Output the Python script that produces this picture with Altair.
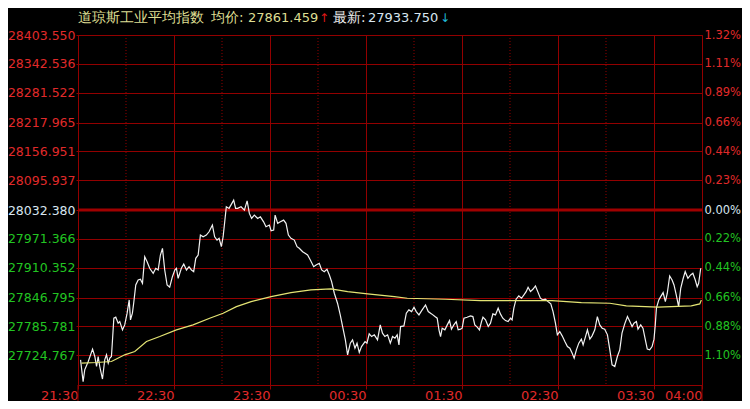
import json
import altair as alt
import pandas as pd

PREV_CLOSE = 28032.380

Y_TICKS = [28403.550, 28342.536, 28281.522, 28217.965, 28156.951, 28095.937,
           28032.380, 27971.366, 27910.352, 27846.795, 27785.781, 27724.767]
LEFT_LABELS = ["28403.550", "28342.536", "28281.522", "28217.965", "28156.951", "28095.937",
               "28032.380", "27971.366", "27910.352", "27846.795", "27785.781", "27724.767"]
RIGHT_LABELS = ["1.32%", "1.11%", "0.89%", "0.66%", "0.44%", "0.23%",
                "0.00%", "0.22%", "0.44%", "0.66%", "0.88%", "1.10%"]
X_TICKS = [0, 60, 120, 180, 240, 300, 360, 390]
X_LABELS = ["21:30", "22:30", "23:30", "00:30", "01:30", "02:30", "03:30", "04:00"]
HALF_HOURS = [30, 90, 150, 210, 270, 330]

price_minute = [
    1.6, 3.2, 4.2, 6.4, 9.1, 10.5, 11.6, 12.6, 13.6, 15.3, 16.7, 17.8, 18.9, 19.9, 20.9,
    21.5, 22.4, 23.6, 25.1, 26.1, 27.8, 29.2, 30.7, 32.0, 32.8, 34.0, 34.8, 36.1, 37.6, 39.0,
    40.3, 41.7, 43.2, 44.8, 47.0, 48.6, 50.1, 51.5, 52.8, 54.2, 55.7, 57.3, 59.0, 60.5, 61.5,
    62.6, 64.6, 66.1, 67.8, 69.4, 70.9, 72.3, 73.6, 75.1, 76.5, 78.2, 80.2, 81.9, 84.0, 85.4,
    86.9, 88.2, 89.6, 90.7, 91.7, 92.7, 94.4, 95.9, 97.3, 98.5,
    99.8, 101.9, 104.0, 105.7, 107.1, 108.5, 110.2, 112.3, 114.0, 116.0, 117.5, 119.6, 120.7,
    122.3, 123.2, 124.8, 126.5, 128.5, 130.0, 131.5, 133.1, 135.2, 136.9, 138.3, 140.4, 141.9,
    143.5, 145.2, 147.3, 148.8, 150.8, 152.3, 153.9, 155.6, 157.1, 158.5, 160.2, 162.2, 163.9,
    165.4, 167.1, 168.5, 170.2, 171.6, 173.1, 174.4, 175.8, 177.2, 179.4, 180.6, 182.0, 183.5,
    185.2, 187.2, 188.9, 190.3, 191.8, 193.5, 195.2, 196.6,
    198.1, 199.5, 200.6, 201.6, 203.7, 205.2, 206.8, 208.5, 210.0, 211.4, 213.1, 215.1, 217.2,
    218.9, 221.0, 223.1, 224.5, 225.6, 226.6, 227.6, 229.3, 230.8, 232.2, 233.4, 234.9, 236.4,
    237.6, 239.1, 240.1, 241.2, 243.2, 245.3, 246.8, 248.0, 249.5, 250.9, 252.2, 253.1, 254.7,
    256.4, 257.8, 259.3, 260.9, 262.6, 264.0, 265.5, 267.2, 268.8, 270.3, 271.3, 272.4, 273.8,
    275.5, 277.2, 278.7, 280.1, 281.3, 282.8, 284.3, 285.9, 287.6, 289.0, 290.5, 292.1, 293.8,
    295.5,
    296.9, 298.4, 299.6, 301.1, 302.6, 304.3, 305.9, 307.4, 308.8, 310.1, 311.5, 313.0, 314.6,
    315.7, 317.1, 318.4, 319.9, 321.3, 323.0, 324.6, 326.1, 327.6, 329.2, 330.9, 332.4, 333.8,
    335.5, 337.1, 338.6, 340.0, 341.7, 343.4, 344.9, 346.3, 347.5, 349.0, 350.0, 351.7, 353.1,
    354.6, 355.8, 357.3, 358.8, 360.0, 360.8, 361.5, 363.0, 364.2, 365.7, 367.1, 368.3, 369.8,
    371.3, 372.5, 373.9, 375.4, 376.7, 378.1, 379.5, 381.2, 382.9, 384.3, 385.8, 387.0, 387.9,
    389.2,
]
price_value = [
    27715.1, 27668.6, 27693.9, 27711.5, 27737.7, 27722.1, 27700.9, 27722.1, 27700.9, 27674.3,
    27715.1, 27725.7, 27708.1, 27718.7, 27722.1, 27753.8, 27803.3, 27805.4, 27792.7, 27796.1,
    27778.6, 27789.1, 27813.9, 27842.0, 27799.7, 27813.9, 27835.0, 27873.7, 27884.3, 27885.8,
    27877.3, 27933.6, 27923.0, 27909.1, 27898.5, 27909.1, 27905.5, 27937.2, 27951.4, 27905.5,
    27873.7, 27868.9, 27891.3, 27905.5, 27909.1, 27887.9, 27909.1, 27918.2, 27905.5, 27912.5,
    27905.5, 27901.9, 27930.2, 27937.2, 27979.5, 27975.9, 27979.5, 27986.5, 28000.7, 27975.9,
    27968.9, 27972.5, 27954.8, 27975.9, 28007.6, 28039.4, 28036.0, 28045.1, 28053.6, 28036.0,
    28036.0, 28039.4, 28032.4, 28052.1, 28025.4, 28014.8, 28021.8, 28014.8, 28018.2, 28007.6,
    27997.1, 28000.7, 27988.6, 27990.1, 28021.8, 28004.3, 28007.6, 28011.2, 28004.3, 27979.5,
    27972.5, 27968.9, 27954.8, 27951.4, 27944.2, 27940.8, 27937.2, 27926.6, 27912.5, 27916.1,
    27919.6, 27905.5, 27901.9, 27907.0, 27894.9, 27880.7, 27856.2, 27835.0, 27810.3, 27785.5,
    27757.4, 27725.7, 27750.4, 27757.4, 27739.8, 27750.4, 27730.5, 27743.2, 27753.8, 27750.4,
    27770.1, 27764.4, 27768.0, 27757.4, 27789.1, 27771.6, 27764.4, 27768.0, 27750.4, 27764.4,
    27761.0, 27768.0, 27746.8, 27785.5, 27787.0, 27813.9, 27820.9, 27817.3, 27826.6, 27817.3,
    27810.3, 27820.9, 27831.4, 27817.3, 27812.4, 27806.7, 27803.3, 27778.6, 27764.4, 27782.1,
    27778.6, 27789.1, 27798.2, 27780.0, 27789.1, 27796.1, 27778.6, 27780.0, 27782.1, 27803.3,
    27805.4, 27808.2, 27806.7, 27789.1, 27784.3, 27778.6, 27796.1, 27805.4, 27799.7, 27785.5,
    27792.7, 27812.4, 27810.3, 27824.5, 27812.4, 27803.3, 27798.2, 27796.1, 27803.3, 27799.7,
    27824.5, 27843.5, 27850.5, 27845.6, 27852.6, 27859.6, 27868.9, 27859.6, 27864.6, 27871.6,
    27857.5, 27845.6, 27842.0, 27843.5, 27838.4, 27833.6,
    27817.3, 27792.7, 27768.0, 27775.0, 27765.9, 27753.8, 27743.2, 27739.8, 27729.3, 27718.7,
    27736.2, 27750.4, 27758.9, 27746.8, 27763.1, 27778.6, 27758.9, 27765.9, 27778.6, 27806.7,
    27789.1, 27782.1, 27780.0, 27768.0, 27736.2, 27704.5, 27700.9, 27722.1, 27736.2, 27771.6,
    27791.2, 27806.7, 27796.1, 27785.5, 27792.7, 27796.1, 27780.0, 27789.1, 27782.1, 27757.4,
    27737.7, 27736.2, 27743.2, 27758.9, 27789.1, 27824.5, 27842.0, 27849.0, 27857.5, 27838.4,
    27856.2, 27892.8, 27884.3, 27873.7, 27852.6, 27827.8, 27866.8, 27885.8, 27901.9, 27887.9,
    27894.9, 27898.5, 27884.3, 27870.1, 27877.3, 27909.1,
]

avg_minute = [2.2, 11.6, 20.9, 29.2, 35.5, 42.8, 51.1, 61.5, 71.9, 82.3, 90.7, 99.0, 108.2,
              120.7, 133.1, 145.6, 158.1, 168.5, 181.0, 197.7, 205.8, 229.7, 251.6, 273.4,
              296.3, 314.6, 332.4, 342.7, 362.5, 383.3, 388.6, 389.6]
avg_value = [27708.1, 27709.4, 27711.5, 27725.7, 27732.6, 27753.8, 27764.4, 27778.6, 27789.1,
             27803.3, 27813.9, 27827.8, 27838.4, 27849.0, 27857.5, 27863.2, 27865.3, 27859.6,
             27854.7, 27849.0, 27845.6, 27843.5, 27840.5, 27840.5, 27840.5, 27836.3, 27835.0,
             27829.3, 27826.6, 27829.3, 27833.6, 27842.0]

GRID = "#920000"
RED = "#e02a2a"
GREEN = "#22c422"
WHITE_BLUE = "#d8e6f0"
YELLOW_TXT = "#dede92"
FONT = "DejaVu Sans"


def lookup(labels, ticks):
    return f"{json.dumps(labels)}[indexof({json.dumps(ticks)}, datum.value)]"


label_color = {
    "condition": [
        {"test": f"datum.value > {PREV_CLOSE + 1}", "value": RED},
        {"test": f"datum.value > {PREV_CLOSE - 1}", "value": WHITE_BLUE},
    ],
    "value": GREEN,
}

xscale = alt.Scale(domain=[0, 390], nice=False, zero=False)
yscale = alt.Scale(domain=[27661.7, 28403.55], nice=False, zero=False)

x_axis = alt.Axis(values=X_TICKS, labelExpr=lookup(X_LABELS, X_TICKS), title=None,
                  grid=True, gridColor=GRID, gridWidth=1, domain=False,
                  ticks=True, tickSize=4, tickColor=GRID,
                  labelAlign="right", labelBaseline="top", labelPadding=0,
                  labelColor=RED, labelFont=FONT, labelFontSize=13,
                  labelFlush=False, labelOverlap=False, labelBound=False)
X = alt.X("minute:Q", scale=xscale, axis=x_axis)

left_axis = alt.Axis(orient="left", values=Y_TICKS, labelExpr=lookup(LEFT_LABELS, Y_TICKS),
                     title=None, grid=True, gridColor=GRID, gridWidth=1, domain=False,
                     ticks=True, tickSize=2, tickColor=GRID, labelPadding=1,
                     labelFont=FONT, labelFontSize=12.5, labelColor=label_color,
                     labelFlush=False, labelOverlap=False, labelBound=False)
right_axis = alt.Axis(orient="right", values=Y_TICKS, labelExpr=lookup(RIGHT_LABELS, Y_TICKS),
                      title=None, grid=False, domain=False, ticks=False, labelPadding=2,
                      labelFont=FONT, labelFontSize=11.5, labelColor=label_color,
                      labelFlush=False, labelOverlap=False, labelBound=False)

df_price = pd.DataFrame({"minute": price_minute, "price": price_value})
df_avg = pd.DataFrame({"minute": avg_minute, "price": avg_value})
df_half = pd.DataFrame({"minute": HALF_HOURS})
df_zero = pd.DataFrame({"price": [PREV_CLOSE]})
dummy = pd.DataFrame({"a": [0]})

half_rules = alt.Chart(df_half).mark_rule(color=GRID, strokeDash=[1, 2], strokeWidth=1).encode(x=X)
zero_rule = alt.Chart(df_zero).mark_rule(color="#a00000", strokeWidth=3).encode(
    y=alt.Y("price:Q", scale=yscale, axis=None))
price_line = alt.Chart(df_price).mark_line(color="#f2f2f2", strokeWidth=1.2).encode(
    x=X, y=alt.Y("price:Q", scale=yscale, axis=left_axis))
avg_line = alt.Chart(df_avg).mark_line(color="#e4e474", strokeWidth=1.2).encode(
    x=X, y=alt.Y("price:Q", scale=yscale, axis=right_axis))

frame_ext = [
    alt.Chart(dummy).mark_rule(color=GRID).encode(x=alt.value(xv), y=alt.value(350), y2=alt.value(372))
    for xv in (0, 624)
]

title_parts = [
    ("道琼斯工业平均指数", 0, 13.5, YELLOW_TXT),
    ("均价:", 133, 13.5, YELLOW_TXT),
    ("27861.459", 170, 13, YELLOW_TXT),
    ("↑", 241, 12, "#e01818"),
    ("最新:", 255, 13.5, "#ececec"),
    ("27933.750", 290, 13, WHITE_BLUE),
    ("↓", 362, 12, "#20b8d8"),
]
title_layers = [
    alt.Chart(dummy).mark_text(text=t, font=FONT, fontSize=s, color=c, align="left",
                               baseline="alphabetic").encode(x=alt.value(xv), y=alt.value(-13.5))
    for (t, xv, s, c) in title_parts
]

chart = alt.layer(
    half_rules, zero_rule, price_line, avg_line, *frame_ext, *title_layers
).resolve_axis(y="independent").properties(
    width=624, height=350,
    padding={"left": 70, "top": 27, "right": 40, "bottom": 16},
    autosize=alt.AutoSizeParams(type="none"),
    background="#000000",
).configure_view(stroke=GRID, strokeWidth=1)

chart.save("out.html", embed_options={"renderer": "svg", "actions": False})
